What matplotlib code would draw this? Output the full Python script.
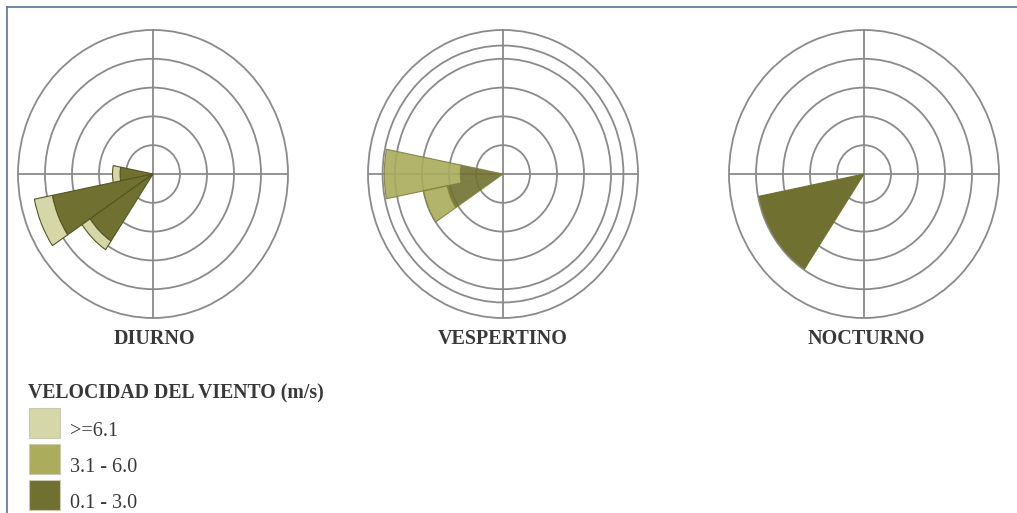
import numpy as np
import matplotlib
matplotlib.use('Agg')
import matplotlib.pyplot as plt
from matplotlib.patches import Rectangle
from matplotlib.lines import Line2D

# wind directions (compass degrees) and frequencies (%) per speed class
directions = [270.0, 247.5, 225.0]

diurno_low = [6.1, 19.0, 14.0]
diurno_mid = [0.0, 0.0, 0.0]
diurno_high = [1.4, 3.4, 1.8]

vespertino_low = [7.9, 10.5, 0.0]
vespertino_mid = [14.1, 4.5, 0.0]
vespertino_high = [0.0, 0.0, 0.0]

nocturno_low = [0.0, 19.8, 19.8]
nocturno_mid = [0.0, 0.0, 0.0]
nocturno_high = [0.0, 0.0, 0.0]

rings_standard = [5, 10, 15, 20]
rings_vespertino = [5, 10, 15, 20, 22.3]
r_max = 25

titles = ['DIURNO', 'VESPERTINO', 'NOCTURNO']
legend_title = 'VELOCIDAD DEL VIENTO (m/s)'
legend_labels = ['>=6.1', '3.1 - 6.0', '0.1 - 3.0']

c_high = '#d6d7a8'
c_mid = '#abac5c'
c_low = '#707131'
grid_col = '#8a8a8a'


def draw_rose(ax, low, mid, high, rings, edge, alpha):
    theta = np.deg2rad(directions)
    width = np.deg2rad(22.5)
    low = np.array(low)
    mid = np.array(mid)
    high = np.array(high)
    ax.set_theta_zero_location('N')
    ax.set_theta_direction(-1)
    # stacked: low speed inside, higher speeds outward
    for vals, base, col in [(low, 0 * low, c_low), (mid, low, c_mid), (high, low + mid, c_high)]:
        keep = vals > 0
        if not keep.any():
            continue
        ax.bar(theta[keep], vals[keep], width=width, bottom=base[keep],
               color=col, edgecolor=edge, linewidth=0.8, alpha=alpha, zorder=2)
    ax.set_ylim(0, r_max)
    ax.set_rgrids(rings, labels=[''] * len(rings))
    ax.set_thetagrids([0, 90, 180, 270], labels=[''] * 4)
    ax.grid(True, color=grid_col, linewidth=1.3)
    ax.spines['polar'].set_color(grid_col)
    ax.spines['polar'].set_linewidth(1.3)
    ax.tick_params(length=0, pad=0)
    ax.set_aspect('auto')


fig = plt.figure(figsize=(10.17, 5.13), dpi=100)

w = 270 / 1017
h = 288 / 513
bottom = 195 / 513
ax1 = fig.add_axes([18 / 1017, bottom, w, h], projection='polar')
ax2 = fig.add_axes([368 / 1017, bottom, w, h], projection='polar')
ax3 = fig.add_axes([729 / 1017, bottom, w, h], projection='polar')

draw_rose(ax1, diurno_low, diurno_mid, diurno_high, rings_standard, '#55561f', 1.0)
draw_rose(ax2, vespertino_low, vespertino_mid, vespertino_high, rings_vespertino, '#7e7f3c', 0.9)
draw_rose(ax3, nocturno_low, nocturno_mid, nocturno_high, rings_standard, c_low, 1.0)

serif = ['Liberation Serif', 'DejaVu Serif']
for x, t in zip([154, 503, 866], titles):
    fig.text(x / 1017, 1 - 339 / 513, t, ha='center', va='center',
             fontsize=14.5, fontweight='bold', family=serif, color='#383838')

fig.text(28 / 1017, 1 - 393 / 513, legend_title, ha='left', va='center',
         fontsize=14.2, fontweight='bold', family=serif, color='#383838')

for i, (lab, col) in enumerate(zip(legend_labels, [c_high, c_mid, c_low])):
    y_top = 408 + i * 36
    fig.patches.append(Rectangle((29 / 1017, 1 - (y_top + 30) / 513), 31 / 1017, 30 / 513,
                                 transform=fig.transFigure, facecolor=col,
                                 edgecolor='#c9c9b0', linewidth=0.8))
    fig.text(70 / 1017, 1 - (y_top + 24) / 513, lab, ha='left', va='center',
             fontsize=14.5, family=serif, color='#383838')

# frame lines (top and left)
fig.lines.append(Line2D([7 / 1017, 1], [1 - 7 / 513, 1 - 7 / 513], transform=fig.transFigure,
                        color='#5a7396', linewidth=1.2))
fig.lines.append(Line2D([7 / 1017, 7 / 1017], [0, 1 - 7 / 513], transform=fig.transFigure,
                        color='#5a7396', linewidth=1.2))

fig.savefig('out.png', dpi=100)
